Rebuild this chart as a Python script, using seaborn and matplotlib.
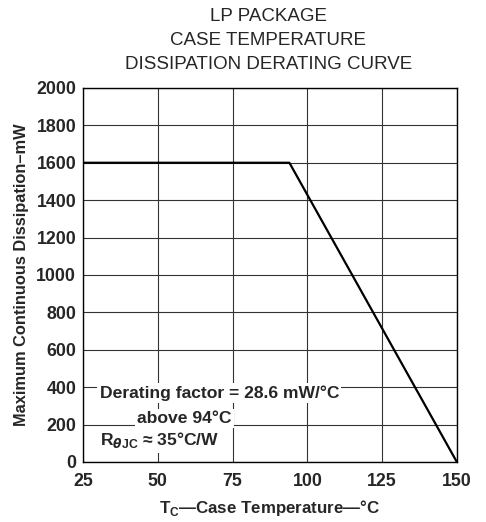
import matplotlib
matplotlib.use("Agg")
import matplotlib.pyplot as plt
import pandas as pd
import seaborn as sns

# derating curve breakpoints
case_temp = [25, 94, 150]
dissipation = [1600, 1600, 0]

x_ticks = [25, 50, 75, 100, 125, 150]
y_ticks = [0, 200, 400, 600, 800, 1000, 1200, 1400, 1600, 1800, 2000]

sns.set_style("white")
plt.rcParams["font.family"] = ["Liberation Sans", "DejaVu Sans"]
plt.rcParams["mathtext.fontset"] = "custom"
plt.rcParams["mathtext.rm"] = "Liberation Sans:bold"
plt.rcParams["mathtext.it"] = "DejaVu Sans:italic:bold"
plt.rcParams["mathtext.bf"] = "Liberation Sans:bold"

df = pd.DataFrame({"temp": case_temp, "power": dissipation})

fig = plt.figure(figsize=(4.86, 5.22), dpi=100)
ax = fig.add_axes([0.171, 0.115, 0.769, 0.7165])

ax.set_xlim(25, 150)
ax.set_ylim(0, 2000)
ax.set_xticks(x_ticks)
ax.set_yticks(y_ticks)
ax.grid(True, color="#333333", linewidth=0.8)
ax.set_axisbelow(True)

sns.lineplot(data=df, x="temp", y="power", ax=ax, color="black", linewidth=1.6, zorder=4)

for side in ax.spines.values():
    side.set_color("black")
    side.set_linewidth(1.0)

ax.tick_params(axis="both", labelsize=12.8, length=0)
ax.tick_params(axis="x", pad=8)
ax.tick_params(axis="y", pad=5)
for lab in ax.get_xticklabels() + ax.get_yticklabels():
    lab.set_fontweight("bold")

ax.set_xlabel("T$_{\\mathrm{C}}$\u2014Case Temperature\u2014\u00b0C", fontsize=12.2, fontweight="bold", labelpad=6)
ax.set_ylabel("Maximum Continuous Dissipation\u2013mW", fontsize=11.8, fontweight="bold", labelpad=5)

fig.text(0.552, 0.985, "LP PACKAGE\nCASE TEMPERATURE\nDISSIPATION DERATING CURVE",
         ha="center", va="top", fontsize=13.5, linespacing=1.55)

box = dict(facecolor="white", edgecolor="none", pad=1.5)
ax.text(30.5, 370, "Derating factor = 28.6 mW/\u00b0C", fontsize=12.6, fontweight="bold",
        va="center", ha="left", bbox=box, zorder=3)
ax.text(43, 232, "above 94\u00b0C", fontsize=12.6, fontweight="bold",
        va="center", ha="left", bbox=box, zorder=3)
ax.text(30.5, 115, "R$_{\\theta \\mathrm{JC}}$ \u2248 35\u00b0C/W", fontsize=12.6, fontweight="bold",
        va="center", ha="left", bbox=box, zorder=3)

plt.savefig("out.png", dpi=100)
plt.close(fig)
